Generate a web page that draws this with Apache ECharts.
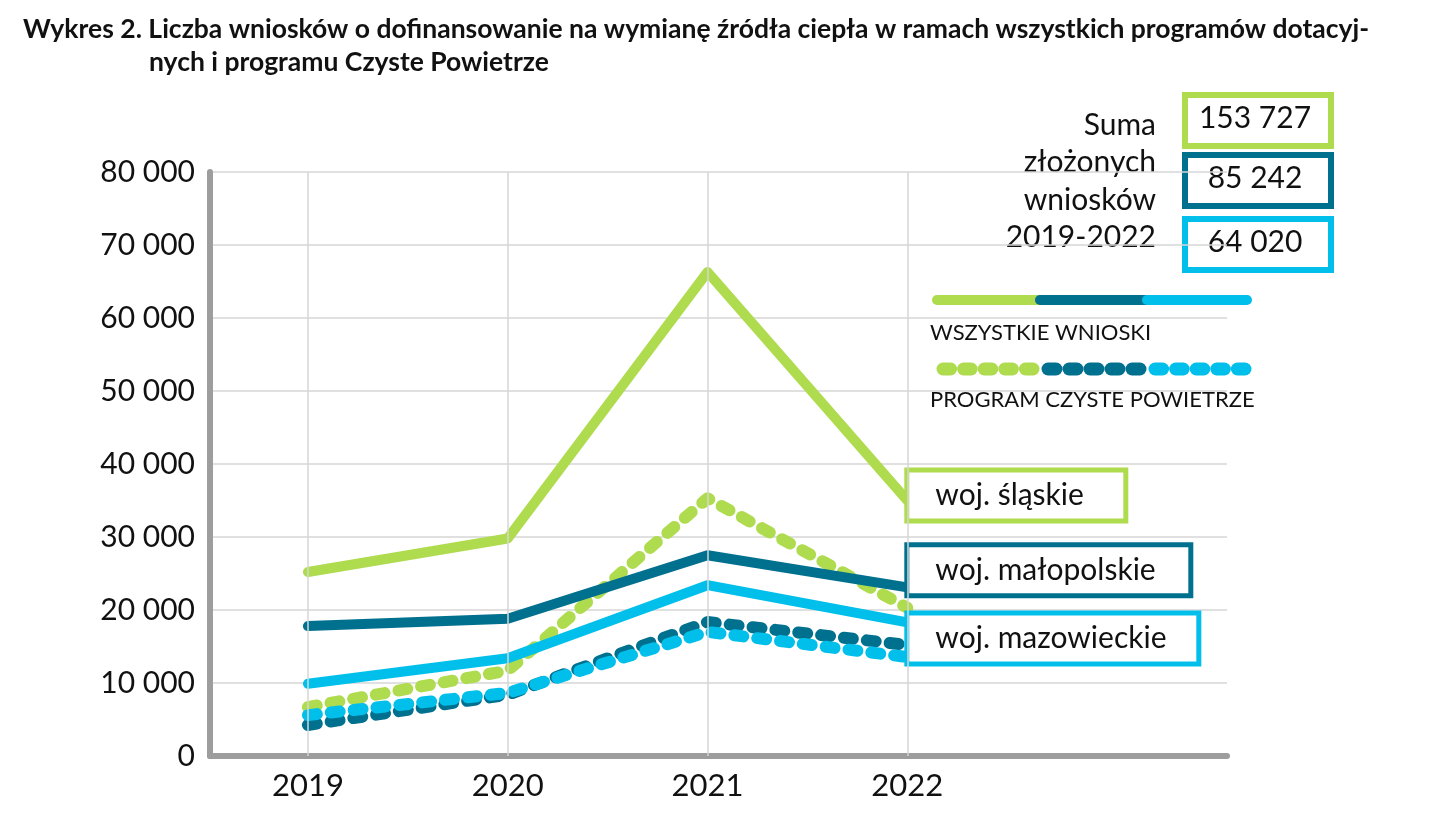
<!DOCTYPE html>
<html><head><meta charset="utf-8">
<script src="https://cdn.jsdelivr.net/npm/echarts@6/dist/echarts.min.js"></script>
<style>html,body{margin:0;padding:0;background:#fff}#c{width:1446px;height:840px}</style>
</head><body><div id="c"></div>
<script>
// ---- data ----
const years = [2019, 2020, 2021, 2022];
const yTicks = [0, 10000, 20000, 30000, 40000, 50000, 60000, 70000, 80000];
const slaskieAll = [25200, 29800, 66300, 35000];
const malopolskieAll = [17800, 18800, 27500, 23100];
const mazowieckieAll = [9900, 13400, 23400, 18300];
const slaskieCP = [6700, 11700, 35300, 20300];
const malopolskieCP = [4250, 8400, 18350, 15200];
const mazowieckieCP = [5600, 8650, 17000, 13550];
const regionNames = ['woj. śląskie', 'woj. małopolskie', 'woj. mazowieckie'];
const sums = ['153 727', '85 242', '64 020'];
const sumCaption = ['Suma', 'złożonych', 'wniosków', '2019-2022'];
const legendNames = ['WSZYSTKIE WNIOSKI', 'PROGRAM CZYSTE POWIETRZE'];
const titleLines = ['Wykres 2. Liczba wniosków o dofinansowanie na wymianę źródła ciepła w ramach wszystkich programów dotacyj-', 'nych i programu Czyste Powietrze'];

const C = ['#afdb4e', '#00708f', '#00c0eb'];
const FONT = 'Lato, "Noto Sans", sans-serif';

function pairs(arr) { return years.map((y, i) => [y, arr[i]]); }
function fmt(v) { return String(v).replace(/\B(?=(\d{3})+(?!\d))/g, ' '); }

function dashSeries(data, color) {
  return { type: 'line', data: pairs(data), symbol: 'none', silent: true,
    lineStyle: { color, width: 12, type: [9, 14], cap: 'round', join: 'round' } };
}
function solidSeries(data, color, name, offset, w) {
  return { type: 'line', data: pairs(data), symbol: 'none', silent: true,
    lineStyle: { color, width: 10, cap: 'round', join: 'round' },
    endLabel: { show: true, formatter: name, distance: 0, offset,
      color: '#111', fontFamily: FONT, fontSize: 30, backgroundColor: '#fff',
      borderColor: color, borderWidth: 5, padding: [6, 10, 6, 26], width: w, height: 34, lineHeight: 34, verticalAlign: 'middle' } };
}

const series = [
  dashSeries(slaskieCP, C[0]),
  dashSeries(malopolskieCP, C[1]),
  dashSeries(mazowieckieCP, C[2]),
  solidSeries(slaskieAll, C[0], regionNames[0], [2, -5], 178),
  solidSeries(malopolskieAll, C[1], regionNames[1], [2, -17], 243),
  solidSeries(mazowieckieAll, C[2], regionNames[2], [2, 16], 251)
];
// vertical grid lines at years
series[0].markLine = { silent: true, symbol: 'none', label: { show: false },
  lineStyle: { color: '#d6d6d6', width: 1.5, type: 'solid' },
  data: years.map(y => ({ xAxis: y })) };

const graphic = [];
const boxY = [92, 152, 216];
sums.forEach((s, i) => {
  graphic.push({ type: 'rect', left: 1182, top: boxY[i], shape: { width: 146, height: 51 },
    style: { fill: '#fff', stroke: C[i], lineWidth: 6 } });
  graphic.push({ type: 'text', x: 1255, y: boxY[i] + 26, style: { text: s, fill: '#111', font: '30px ' + FONT, textAlign: 'center', textVerticalAlign: 'middle' } });
});
sumCaption.forEach((t, i) => {
  graphic.push({ type: 'text', x: 1156, y: 125 + i * 37.5, style: { text: t, fill: '#111', font: '30px ' + FONT, textAlign: 'right', textVerticalAlign: 'middle' } });
});
const segs = [[937, 1040], [1040, 1147], [1147, 1247]];
segs.forEach((s, i) => {
  graphic.push({ type: 'line', shape: { x1: s[0], y1: 300, x2: s[1], y2: 300 }, style: { stroke: C[i], lineWidth: 10, lineCap: 'round' } });
});
const dsegs = [[937, 1040], [1042, 1147], [1149, 1252]];
dsegs.forEach((s, i) => {
  const n = 5, step = (s[1] - s[0]) / n;
  for (let k = 0; k < n; k++) {
    graphic.push({ type: 'line', shape: { x1: s[0] + k * step + 6, y1: 369, x2: s[0] + (k + 1) * step - 7, y2: 369 }, style: { stroke: C[i], lineWidth: 13, lineCap: 'round' } });
  }
});
graphic.push({ type: 'text', x: 930, y: 333, style: { text: legendNames[0], fill: '#111', font: '22px ' + FONT, textVerticalAlign: 'middle' } });
graphic.push({ type: 'text', x: 930, y: 400, style: { text: legendNames[1], fill: '#111', font: '22px ' + FONT, textVerticalAlign: 'middle' } });

const chart = echarts.init(document.getElementById('c'), null, { renderer: 'canvas' });
chart.setOption({
  animation: false,
  backgroundColor: '#fff',
  title: [
    { text: titleLines[0], left: 18, top: 11, textStyle: { fontFamily: FONT, fontWeight: 'bold', fontSize: 26.5, color: '#111' } },
    { text: titleLines[1], left: 144, top: 44, textStyle: { fontFamily: FONT, fontWeight: 'bold', fontSize: 26.5, color: '#111' } }
  ],
  grid: { left: 210, right: 219, top: 172, bottom: 84, containLabel: false },
  xAxis: {
    type: 'value', min: 2018.51, max: 2023.6,
    axisLine: { show: true, lineStyle: { color: '#9d9d9d', width: 6 } },
    axisTick: { show: false },
    splitLine: { show: false },
    axisLabel: { customValues: years, formatter: v => String(v), color: '#111', fontFamily: FONT, fontSize: 31, margin: 14 }
  },
  yAxis: {
    type: 'value', min: 0, max: 80000, interval: 10000,
    axisLine: { show: true, onZero: false, lineStyle: { color: '#9d9d9d', width: 6 } },
    axisTick: { show: false },
    splitLine: { show: true, lineStyle: { color: '#d6d6d6', width: 1.5 } },
    axisLabel: { customValues: yTicks, formatter: v => fmt(v), color: '#111', fontFamily: FONT, fontSize: 30, margin: 15 }
  },
  series,
  graphic
});
</script></body></html>
